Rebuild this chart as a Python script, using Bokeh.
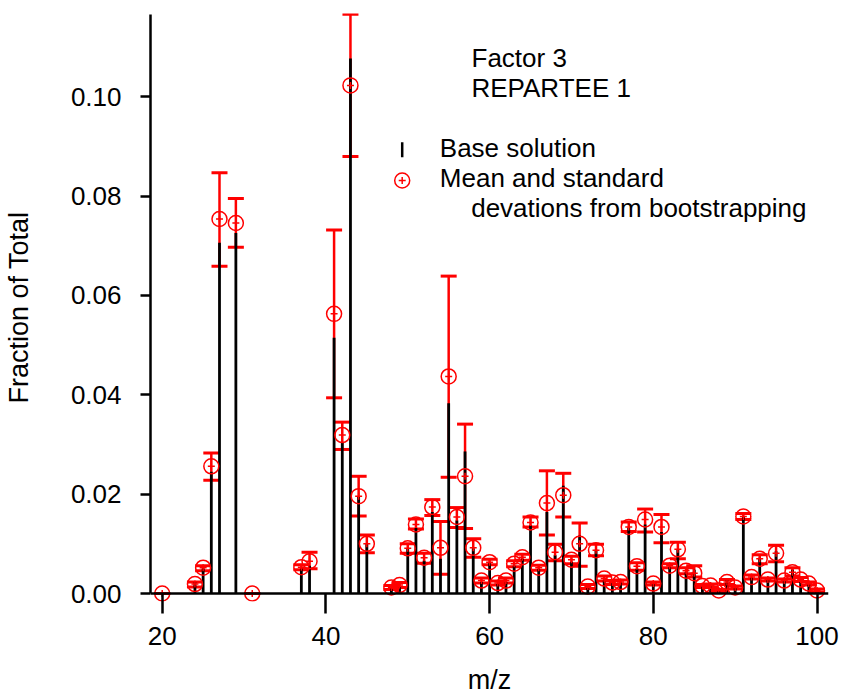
from bokeh.plotting import figure
from bokeh.models import (ColumnDataSource, Whisker, TeeHead, FixedTicker,
                          PrintfTickFormatter, Label, Range1d, Span)
from bokeh.embed import file_html
from bokeh.resources import INLINE

# ---------------- data ----------------
mz = [20, 24, 25, 26, 27, 29, 31, 37, 38, 41, 42, 43, 44, 45,
      48, 49, 50, 51, 52, 53, 54, 55, 56, 57, 58, 59, 60, 61, 62, 63, 64,
      65, 66, 67, 68, 69, 70, 71, 72, 73, 74, 75, 76, 77, 78, 79, 80, 81,
      82, 83, 84, 85, 86, 87, 88, 89, 90, 91, 92, 93, 94, 95, 96, 97, 98,
      99, 100]
base_solution = [0.0, 0.0022, 0.0051, 0.0245, 0.0706, 0.0726, 0.0, 0.0050, 0.0056,
                 0.0515, 0.0304, 0.1077, 0.0196, 0.0100,
                 0.0010, 0.0013, 0.0090, 0.0132, 0.0066, 0.0164, 0.0070, 0.0383,
                 0.0147, 0.0286, 0.0091, 0.0023, 0.0061, 0.0019, 0.0023, 0.0056,
                 0.0070, 0.0137, 0.0049, 0.0164, 0.0077, 0.0217, 0.0064, 0.0117,
                 0.0011, 0.0088, 0.0026, 0.0022, 0.0023, 0.0133, 0.0050, 0.0139,
                 0.0020, 0.0124, 0.0053, 0.0089, 0.0043, 0.0048, 0.0015, 0.0014,
                 0.0006, 0.0026, 0.0012, 0.0154, 0.0032, 0.0072, 0.0029, 0.0085,
                 0.0027, 0.0048, 0.0023, 0.0018, 0.0003]
boot_mean = [0.0, 0.0019, 0.0052, 0.0256, 0.0754, 0.0746, 0.0, 0.0053, 0.0065,
             0.0563, 0.0319, 0.1023, 0.0196, 0.0100,
             0.0012, 0.0017, 0.0091, 0.0139, 0.0072, 0.0174, 0.0092, 0.0437,
             0.0154, 0.0236, 0.0092, 0.0026, 0.0063, 0.0021, 0.0026, 0.0060,
             0.0073, 0.0143, 0.0052, 0.0182, 0.0083, 0.0198, 0.0068, 0.0100,
             0.0014, 0.0087, 0.0030, 0.0022, 0.0023, 0.0134, 0.0055, 0.0149,
             0.0020, 0.0134, 0.0056, 0.0089, 0.0046, 0.0041, 0.0015, 0.0016,
             0.0006, 0.0023, 0.0012, 0.0155, 0.0033, 0.0070, 0.0028, 0.0081,
             0.0026, 0.0043, 0.0028, 0.0020, 0.0006]
boot_low = [0.0, 0.0013, 0.0046, 0.0228, 0.0659, 0.0697, 0.0, 0.0048, 0.0050,
            0.0394, 0.0290, 0.0880, 0.0156, 0.0082,
            0.0008, 0.0012, 0.0081, 0.0130, 0.0061, 0.0157, 0.0039, 0.0234,
            0.0133, 0.0131, 0.0073, 0.0021, 0.0058, 0.0017, 0.0021, 0.0054,
            0.0067, 0.0134, 0.0047, 0.0118, 0.0066, 0.0154, 0.0060, 0.0055,
            0.0010, 0.0076, 0.0025, 0.0018, 0.0019, 0.0125, 0.0047, 0.0124,
            0.0017, 0.0102, 0.0052, 0.0070, 0.0040, 0.0033, 0.0012, 0.0013,
            0.0004, 0.0018, 0.0009, 0.0149, 0.0029, 0.0060, 0.0025, 0.0064,
            0.0023, 0.0035, 0.0024, 0.0017, 0.0003]
boot_high = [0.0, 0.0023, 0.0056, 0.0283, 0.0847, 0.0795, 0.0, 0.0058, 0.0083,
             0.0732, 0.0345, 0.1166, 0.0236, 0.0118,
             0.0016, 0.0022, 0.0100, 0.0150, 0.0081, 0.0189, 0.0145, 0.0639,
             0.0173, 0.0341, 0.0110, 0.0031, 0.0069, 0.0025, 0.0031, 0.0066,
             0.0079, 0.0154, 0.0057, 0.0247, 0.0099, 0.0242, 0.0075, 0.0142,
             0.0018, 0.0099, 0.0035, 0.0026, 0.0027, 0.0144, 0.0062, 0.0170,
             0.0023, 0.0159, 0.0060, 0.0103, 0.0052, 0.0056, 0.0018, 0.0019,
             0.0008, 0.0028, 0.0015, 0.0161, 0.0037, 0.0078, 0.0031, 0.0097,
             0.0029, 0.0052, 0.0032, 0.0023, 0.0009]

x_ticks = [20, 40, 60, 80, 100]
y_ticks = [0.0, 0.02, 0.04, 0.06, 0.08, 0.10]

title_lines = ["Factor 3", "REPARTEE 1"]
legend_labels = ["Base solution", "Mean and standard", "devations from bootstrapping"]
x_title = "m/z"
y_title = "Fraction of Total"

# ---------------- layout constants ----------------
FONT = "Liberation Sans"
FS = "26px"
FS_TITLE = "27px"
RED = "#ff0000"
W, H = 842, 697
LEFT, RIGHT, TOP, BOTTOM = 150, 14, 13, 96
X0 = 18.57
PX_PER_X = 8.185
X1 = X0 + (W - LEFT - RIGHT) / PX_PER_X
Y_ZERO_PX = 593.0
PX_PER_Y = 4967.0
FRAME_BOTTOM_PX = H - BOTTOM
Y0 = -(FRAME_BOTTOM_PX - Y_ZERO_PX) / PX_PER_Y
Y1 = (Y_ZERO_PX - TOP) / PX_PER_Y
Y_AXIS_TOP = (Y_ZERO_PX - 14.0) / PX_PER_Y
TEXT_SHIFT = 9.5   # compensation for the label baseline placement


def px_x(px):
    return X0 + (px - LEFT) / PX_PER_X


def px_y(py):
    return (Y_ZERO_PX - py) / PX_PER_Y


src = ColumnDataSource(dict(mz=mz, base=base_solution, mean=boot_mean,
                            lo=boot_low, hi=boot_high))

p = figure(width=W, height=H, x_range=Range1d(X0, X1), y_range=Range1d(Y0, Y1),
           output_backend="svg", toolbar_location=None,
           min_border_left=LEFT, min_border_right=RIGHT,
           min_border_top=TOP, min_border_bottom=BOTTOM)
p.outline_line_color = None
p.grid.visible = False
p.background_fill_color = "white"
p.border_fill_color = "white"

# x axis: ticks reach up to the zero line, which is drawn as a span
xa = p.xaxis[0]
xa.ticker = FixedTicker(ticks=x_ticks, minor_ticks=[])
xa.axis_line_color = None
xa.major_tick_line_width = 2.5
xa.major_tick_in = int(FRAME_BOTTOM_PX - Y_ZERO_PX)
xa.major_tick_out = 12
xa.minor_tick_out = 0
xa.minor_tick_in = 0
xa.major_label_text_font = FONT
xa.major_label_text_font_size = FS
xa.major_label_text_color = "black"
xa.major_label_standoff = 13
xa.axis_label = x_title
xa.axis_label_text_font = FONT
xa.axis_label_text_font_size = FS_TITLE
xa.axis_label_text_font_style = "normal"
xa.axis_label_text_color = "black"
xa.axis_label_standoff = 17

ya = p.yaxis[0]
ya.bounds = (0, Y_AXIS_TOP)
ya.ticker = FixedTicker(ticks=y_ticks, minor_ticks=[])
ya.formatter = PrintfTickFormatter(format="%.2f")
ya.axis_line_width = 2.5
ya.major_tick_line_width = 2.5
ya.major_tick_out = 10
ya.major_tick_in = 0
ya.minor_tick_out = 0
ya.minor_tick_in = 0
ya.major_label_text_font = FONT
ya.major_label_text_font_size = FS
ya.major_label_text_color = "black"
ya.major_label_standoff = 19
ya.axis_label = y_title
ya.axis_label_text_font = FONT
ya.axis_label_text_font_size = FS_TITLE
ya.axis_label_text_font_style = "normal"
ya.axis_label_text_color = "black"
ya.axis_label_standoff = 34

# error bars (under the sticks)
err = Whisker(base="mz", lower="lo", upper="hi", source=src,
              line_color=RED, line_width=2.5, level="underlay",
              upper_head=TeeHead(size=16, line_color=RED, line_width=3),
              lower_head=TeeHead(size=16, line_color=RED, line_width=3))
p.add_layout(err)

# base solution sticks
p.segment(x0="mz", y0=0, x1="mz", y1="base", source=src,
          line_color="black", line_width=2.8)

# zero line
p.add_layout(Span(location=0, dimension="width", line_color="black", line_width=2.5))

# bootstrap means
p.scatter(x="mz", y="mean", source=src, marker="circle", size=15,
          fill_color=None, line_color=RED, line_width=1.5)
p.scatter(x="mz", y="mean", source=src, marker="cross", size=7,
          line_color=RED, line_width=1.5)

# title text block
for txt, base_px in zip(title_lines, [67.3, 96.7]):
    p.add_layout(Label(x=px_x(471), y=px_y(base_px - TEXT_SHIFT), text=txt,
                       text_font=FONT, text_font_size=FS,
                       text_baseline="alphabetic", text_color="black"))

# legend
for txt, xpx, base_px in zip(legend_labels, [439.3, 439.3, 470.7], [157.3, 187.3, 216.7]):
    p.add_layout(Label(x=px_x(xpx), y=px_y(base_px - TEXT_SHIFT), text=txt,
                       text_font=FONT, text_font_size=FS,
                       text_baseline="alphabetic", text_color="black"))
KEY_X = px_x(401.7)
p.segment(x0=[KEY_X], y0=[px_y(156.7)], x1=[KEY_X], y1=[px_y(141.7)],
          line_color="black", line_width=2.5)
p.scatter(x=[KEY_X], y=[px_y(180)], marker="circle", size=15, fill_color=None,
          line_color=RED, line_width=1.5)
p.scatter(x=[KEY_X], y=[px_y(180)], marker="cross", size=7,
          line_color=RED, line_width=1.5)

open("out.html", "w").write(file_html(p, INLINE))
